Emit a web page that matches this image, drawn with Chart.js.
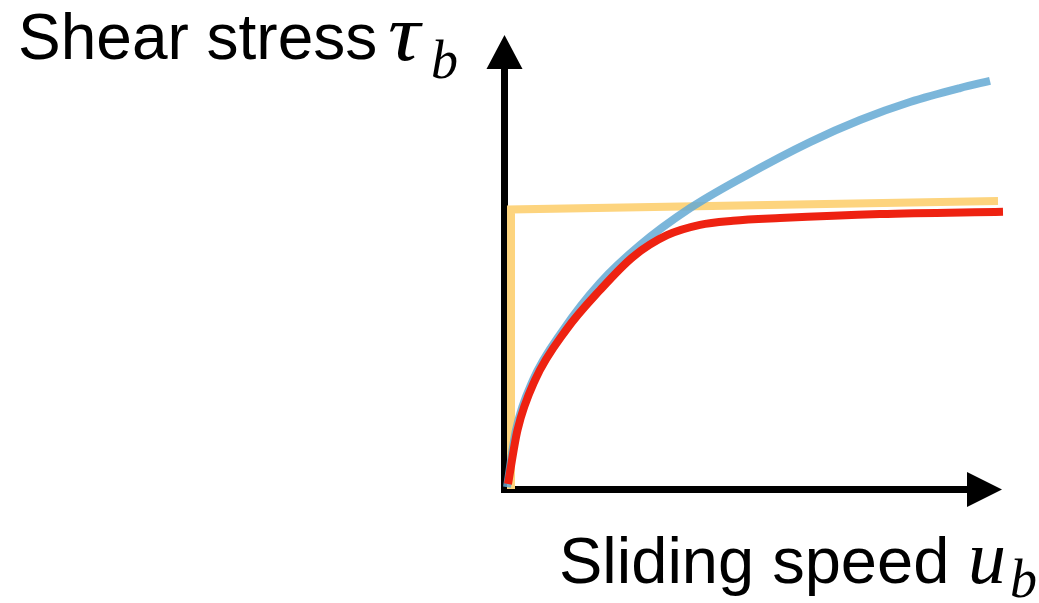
<!DOCTYPE html>
<html>
<head>
<meta charset="utf-8">
<script src="https://cdn.jsdelivr.net/npm/chart.js@4/dist/chart.umd.min.js"></script>
<style>
  html, body { margin: 0; padding: 0; background: #fff; }
  #wrap { position: relative; width: 1039px; height: 603px; overflow: hidden; }
  #c { position: absolute; left: 0; top: 0; }
  .lbl { position: absolute; font-family: "Liberation Sans", Arial, Helvetica, sans-serif; color: #000; white-space: nowrap; }
  .sym { position: absolute; font-family: "Liberation Serif", "Times New Roman", serif; font-style: italic; color: #000; white-space: nowrap; }
</style>
</head>
<body>
<div id="wrap">
  <canvas id="c" width="1039" height="603"></canvas>
  <div class="lbl" style="left:18px; top:5px; font-size:64px; line-height:64px;">Shear stress</div>
  <div class="sym" style="left:388px; top:-7px; font-size:80px; line-height:80px; transform:scaleX(1.12); transform-origin:left top;">τ</div>
  <div class="sym" style="left:431px; top:33px; font-size:54px; line-height:54px;">b</div>
  <div class="lbl" style="left:559px; top:528px; font-size:65px; line-height:65px;">Sliding speed</div>
  <div class="sym" style="left:968px; top:519px; font-size:76px; line-height:76px;">u</div>
  <div class="sym" style="left:1010px; top:552px; font-size:54px; line-height:54px;">b</div>
</div>
<script>
// Sliding speed (x) and shear stress (y), arbitrary units, 0-100 on both axes
const slidingLaw = {  // power-law type friction: keeps rising with speed
  x: [0.6, 2.4, 5.8, 11.8, 19.2, 27.2, 37.2, 47.8, 61.2, 71.2, 81.2, 91.2, 97.2],
  y: [0.4, 13.1, 24.2, 35.3, 45.8, 54.2, 62.4, 69.3, 77.1, 82.0, 86.0, 89.1, 90.7]
};
const regularizedLaw = {  // rate-strengthening at low speed, saturating at high speed
  x: [0.8, 2.7, 6.2, 12.4, 19.2, 25.8, 32.6, 39.2, 45.8, 55.2, 75.2, 99.8],
  y: [1.1, 13.1, 24.2, 35.3, 44.2, 51.6, 56.4, 58.7, 59.6, 60.2, 61.1, 61.6]
};
const plasticLaw = {  // Coulomb / plastic: jumps to yield stress at zero speed
  x: [1.4, 1.4, 98.8],
  y: [0.0, 62.1, 64.0]
};

const toPoints = s => s.x.map((v, i) => ({ x: v, y: s.y[i] }));

// Black axes with arrow heads, drawn under the curves
const axesArrows = {
  id: 'axesArrows',
  beforeDatasetsDraw(chart) {
    const { ctx, scales: { x, y }, chartArea } = chart;
    const ox = x.getPixelForValue(0);
    const oy = y.getPixelForValue(0);
    const tipX = chartArea.right - 2;
    const tipY = chartArea.top - 4;
    ctx.save();
    ctx.strokeStyle = '#000';
    ctx.fillStyle = '#000';
    ctx.lineWidth = 7;
    ctx.lineCap = 'butt';
    // vertical axis
    ctx.beginPath();
    ctx.moveTo(ox + 0.5, oy + 3.5);
    ctx.lineTo(ox + 0.5, tipY + 33);
    ctx.stroke();
    ctx.beginPath();
    ctx.moveTo(ox + 0.5, tipY);
    ctx.lineTo(ox - 17.5, tipY + 34);
    ctx.lineTo(ox + 18.5, tipY + 34);
    ctx.closePath();
    ctx.fill();
    // horizontal axis
    ctx.beginPath();
    ctx.moveTo(ox - 3, oy + 0.5);
    ctx.lineTo(tipX - 34, oy + 0.5);
    ctx.stroke();
    ctx.beginPath();
    ctx.moveTo(tipX, oy + 0.5);
    ctx.lineTo(tipX - 35, oy - 17);
    ctx.lineTo(tipX - 35, oy + 18);
    ctx.closePath();
    ctx.fill();
    ctx.restore();
  }
};

new Chart(document.getElementById('c'), {
  type: 'line',
  data: {
    datasets: [
      {
        label: 'Plastic',
        data: toPoints(plasticLaw),
        borderColor: '#fdd47e',
        borderWidth: 8,
        tension: 0,
        borderJoinStyle: 'miter',
        borderCapStyle: 'butt',
        order: 3
      },
      {
        label: 'Power law',
        data: toPoints(slidingLaw),
        borderColor: 'rgba(100,169,212,0.85)',
        borderWidth: 8,
        cubicInterpolationMode: 'monotone',
        borderCapStyle: 'butt',
        order: 2
      },
      {
        label: 'Regularized Coulomb',
        data: toPoints(regularizedLaw),
        borderColor: '#ee2211',
        borderWidth: 8,
        cubicInterpolationMode: 'monotone',
        borderCapStyle: 'butt',
        order: 1
      }
    ]
  },
  options: {
    responsive: false,
    animation: false,
    devicePixelRatio: 1,
    clip: false,
    layout: { padding: { left: 504, right: 35, top: 39, bottom: 114 } },
    elements: { point: { radius: 0, hoverRadius: 0 } },
    plugins: { legend: { display: false }, tooltip: { enabled: false }, title: { display: false } },
    events: [],
    scales: {
      x: { type: 'linear', min: 0, max: 100, display: false },
      y: { type: 'linear', min: 0, max: 100, display: false }
    }
  },
  plugins: [axesArrows]
});
</script>
</body>
</html>
